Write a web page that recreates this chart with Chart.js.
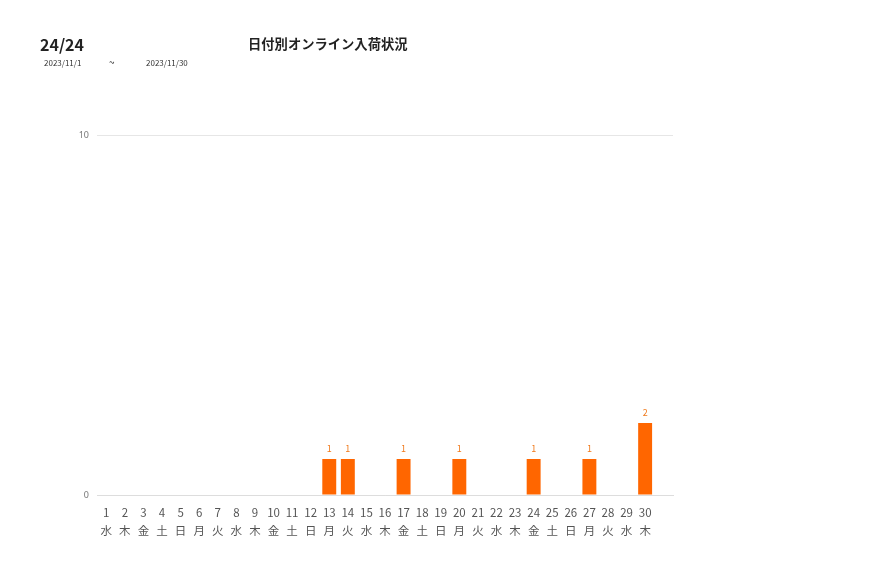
<!DOCTYPE html>
<html>
<head>
<meta charset="utf-8">
<script src="https://cdn.jsdelivr.net/npm/chart.js@4"></script>
<style>
    body { margin: 0; background: #fff; font-family: "Noto Sans CJK JP", "Noto Sans", sans-serif; }
    .wrap { position: relative; width: 877px; height: 578px; }
    .count { position: absolute; left: 40px; top: 32px; font-size: 16px; font-weight: bold; color: #222; }
    .title { position: absolute; left: 248px; top: 34px; font-size: 13.3px; font-weight: bold; color: #222; }
    .date { position: absolute; top: 57px; font-size: 8px; color: #333; }
    #chart-box { position: absolute; left: 0; top: 0; width: 877px; height: 578px; }
</style>
</head>
<body>
<div class="wrap">
    <div id="chart-box"><canvas id="chart"></canvas></div>
    <div class="count">24/24</div>
    <div class="title">日付別オンライン入荷状況</div>
    <div class="date" style="left:44px">2023/11/1</div>
    <div class="date" style="left:109px; top:54px; font-size:10px">~</div>
    <div class="date" style="left:146px">2023/11/30</div>
</div>
<script>
// 2023年11月 (31日目は空欄)
const days = ['1','2','3','4','5','6','7','8','9','10','11','12','13','14','15',
    '16','17','18','19','20','21','22','23','24','25','26','27','28','29','30',''];
const weekdays = ['水','木','金','土','日','月','火','水','木','金','土','日','月','火','水',
    '木','金','土','日','月','火','水','木','金','土','日','月','火','水','木',''];
const arrivals = [0,0,0,0,0,0,0,0,0,0,0,0,1,1,0,0,1,0,0,1,0,0,0,1,0,0,1,0,0,2,null];
const y_ticks = [0, 10];

let labels = days.map((d, i) => [d, weekdays[i]]);

// 棒の上に値を表示
const valueLabels = {
    id: 'valueLabels',
    afterDatasetsDraw(chart) {
        const ctx = chart.ctx;
        const meta = chart.getDatasetMeta(0);
        ctx.save();
        ctx.font = '9px "Noto Sans CJK JP", sans-serif';
        ctx.fillStyle = '#f07a1c';
        ctx.textAlign = 'center';
        ctx.textBaseline = 'bottom';
        meta.data.forEach((bar, i) => {
            const v = arrivals[i];
            if (v) ctx.fillText(v, bar.x, bar.y - 6);
        });
        ctx.restore();
    }
};

new Chart(document.getElementById('chart'), {
    type: 'bar',
    data: {
        labels: labels,
        datasets: [{
            data: arrivals,
            backgroundColor: '#ff6600',
            barPercentage: 0.75,
            categoryPercentage: 1.0
        }]
    },
    plugins: [valueLabels],
    options: {
        responsive: true,
        maintainAspectRatio: false,
        animation: false,
        layout: { padding: { left: 0, right: 204, top: 135, bottom: 0 } },
        plugins: { legend: { display: false }, tooltip: { enabled: false } },
        scales: {
            x: {
                grid: { display: false },
                border: { color: '#ddd' },
                ticks: {
                    color: '#555',
                    font: { size: 11.5, family: '"Noto Sans CJK JP", sans-serif', lineHeight: 1.55 },
                    padding: 1,
                    maxRotation: 0,
                    autoSkip: false
                },
                afterFit(scale) { scale.height = 83; }
            },
            y: {
                min: 0,
                max: 10,
                afterBuildTicks(scale) { scale.ticks = y_ticks.map(v => ({ value: v })); },
                grid: { color: '#e6e6e6', drawTicks: false },
                border: { display: false },
                ticks: {
                    color: '#777',
                    font: { size: 9, family: '"Noto Sans", sans-serif' },
                    padding: 8
                },
                afterFit(scale) { scale.width = 97; }
            }
        }
    }
});
</script>
</body>
</html>
